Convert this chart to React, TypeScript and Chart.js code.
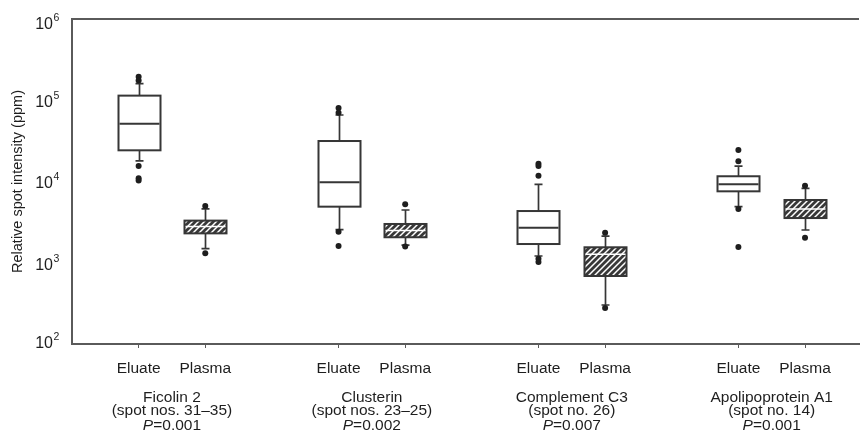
import React, { useEffect, useRef } from "react";
import { Chart, registerables } from "chart.js";

Chart.register(...registerables);

const groups = ["Ficolin 2", "Clusterin", "Complement C3", "Apolipoprotein A1"];
const spotLabels = ["(spot nos. 31–35)", "(spot nos. 23–25)", "(spot no. 26)", "(spot no. 14)"];
const pValues = ["0.001", "0.002", "0.007", "0.001"];
const sampleTypes = ["Eluate", "Plasma"];
const yTickValues = [1e2, 1e3, 1e4, 1e5, 1e6];

// Eluate box statistics (per protein)
const eluateLow = [17900, 2550, 1210, 4900];
const eluateQ1 = [24200, 4900, 1700, 7570];
const eluateMedian = [51500, 9770, 2700, 9230];
const eluateQ3 = [114000, 31500, 4330, 11600];
const eluateHigh = [160000, 65800, 9230, 15500];
const eluateOutliers = [
  [195000, 175000, 15500, 11000, 10300],
  [80000, 70000, 2400, 1610],
  [16500, 15500, 11800, 1120, 1020],
  [24400, 17700, 4600, 1560],
];

// Plasma box statistics (per protein)
const plasmaLow = [1490, 1650, 302, 2530];
const plasmaQ1 = [2300, 2060, 687, 3550];
const plasmaMedian = [2800, 2500, 1270, 4580];
const plasmaQ3 = [3300, 3000, 1550, 5920];
const plasmaHigh = [4600, 4460, 2130, 8250];
const plasmaOutliers = [
  [5000, 1310],
  [5240, 1580],
  [2340, 277],
  [8870, 2030],
];

const FONT = "'Liberation Sans', Arial, Helvetica, sans-serif";
const TEXT = "#1e1e1e";
const FRAME = "#5a5a5a";
const BOX_LINE = "#363636";

const stats = [
  { low: eluateLow, q1: eluateQ1, med: eluateMedian, q3: eluateQ3, high: eluateHigh, out: eluateOutliers },
  { low: plasmaLow, q1: plasmaQ1, med: plasmaMedian, q3: plasmaQ3, high: plasmaHigh, out: plasmaOutliers },
];

const posOf = (g: number, t: number) => g * 3 + t;

export default function App() {
  const ref = useRef<HTMLCanvasElement | null>(null);

  useEffect(() => {
    const canvas = ref.current;
    if (!canvas) return;

    // hatch pattern
    const pc = document.createElement("canvas");
    pc.width = 6;
    pc.height = 6;
    const pctx = pc.getContext("2d")!;
    pctx.fillStyle = "#383838";
    pctx.fillRect(0, 0, 6, 6);
    pctx.strokeStyle = "#ffffff";
    pctx.lineWidth = 1.5;
    pctx.beginPath();
    pctx.moveTo(-3, 3); pctx.lineTo(3, -3);
    pctx.moveTo(0, 6); pctx.lineTo(6, 0);
    pctx.moveTo(3, 9); pctx.lineTo(9, 3);
    pctx.stroke();
    const ctx0 = canvas.getContext("2d")!;
    const hatch = ctx0.createPattern(pc, "repeat");

    const tickPositions: number[] = [];
    const tickLabels: Record<number, string> = {};
    groups.forEach((_, g) => {
      sampleTypes.forEach((s, t) => {
        tickPositions.push(posOf(g, t));
        tickLabels[posOf(g, t)] = s;
      });
    });

    const outlierData: { x: number; y: number }[] = [];
    groups.forEach((_, g) => {
      stats.forEach((st, t) => {
        st.out[g].forEach((v) => outlierData.push({ x: posOf(g, t), y: v }));
      });
    });

    const boxPlugin = {
      id: "boxes",
      beforeDatasetsDraw(chart: any) {
        const { ctx, scales } = chart;
        const xs = scales.x;
        const ys = scales.y;
        const half = 21;
        const cap = 4;
        ctx.save();
        groups.forEach((_, g) => {
          stats.forEach((st, t) => {
            const px = Math.round(xs.getPixelForValue(posOf(g, t))) + 0.5;
            const yLow = ys.getPixelForValue(st.low[g]);
            const yQ1 = ys.getPixelForValue(st.q1[g]);
            const yMed = ys.getPixelForValue(st.med[g]);
            const yQ3 = ys.getPixelForValue(st.q3[g]);
            const yHigh = ys.getPixelForValue(st.high[g]);
            ctx.strokeStyle = BOX_LINE;
            ctx.lineWidth = 1.7;
            ctx.beginPath();
            ctx.moveTo(px, yHigh); ctx.lineTo(px, yQ3);
            ctx.moveTo(px, yQ1); ctx.lineTo(px, yLow);
            ctx.moveTo(px - cap, yHigh); ctx.lineTo(px + cap, yHigh);
            ctx.moveTo(px - cap, yLow); ctx.lineTo(px + cap, yLow);
            ctx.stroke();
            ctx.fillStyle = t === 0 ? "#ffffff" : (hatch as any);
            ctx.fillRect(px - half, yQ3, half * 2, yQ1 - yQ3);
            ctx.lineWidth = 2;
            ctx.strokeRect(px - half, yQ3, half * 2, yQ1 - yQ3);
            ctx.beginPath();
            ctx.strokeStyle = t === 0 ? BOX_LINE : "#ffffff";
            ctx.lineWidth = t === 0 ? 2 : 1.5;
            ctx.moveTo(px - half + 1, yMed); ctx.lineTo(px + half - 1, yMed);
            ctx.stroke();
          });
        });
        ctx.restore();
      },
      afterDraw(chart: any) {
        const { ctx, chartArea, scales } = chart;
        const xs = scales.x;
        const ys = scales.y;
        ctx.save();
        // top frame line
        ctx.strokeStyle = FRAME;
        ctx.lineWidth = 2;
        ctx.beginPath();
        ctx.moveTo(chartArea.left - 1, chartArea.top);
        ctx.lineTo(chartArea.right, chartArea.top);
        ctx.stroke();

        // y tick labels 10^n
        ctx.fillStyle = TEXT;
        yTickValues.forEach((v) => {
          const ty = ys.getPixelForValue(v);
          const cy = Math.min(Math.max(ty + 1, 23), 342);
          const base = cy + 5.8;
          const exp = String(Math.round(Math.log10(v)));
          ctx.font = `16px ${FONT}`;
          ctx.textAlign = "right";
          ctx.textBaseline = "alphabetic";
          ctx.fillText("10", 53, base);
          ctx.font = `10.5px ${FONT}`;
          ctx.textAlign = "left";
          ctx.fillText(exp, 53.5, base - 8);
        });

        // y title
        ctx.save();
        ctx.translate(18, (chartArea.top + chartArea.bottom) / 2);
        ctx.rotate(-Math.PI / 2);
        ctx.font = `14.5px ${FONT}`;
        ctx.textAlign = "center";
        ctx.textBaseline = "middle";
        ctx.fillText("Relative spot intensity (ppm)", 0, 0);
        ctx.restore();

        // group labels
        groups.forEach((name, g) => {
          const cx = xs.getPixelForValue(posOf(g, 0.5));
          ctx.textBaseline = "alphabetic";
          ctx.textAlign = "center";
          ctx.font = `15.5px ${FONT}`;
          ctx.fillText(name, cx, 401.5);
          ctx.fillText(spotLabels[g], cx, 415);
          const rest = "=" + pValues[g];
          ctx.font = `italic 15.5px ${FONT}`;
          const wP = ctx.measureText("P").width;
          ctx.font = `15.5px ${FONT}`;
          const wR = ctx.measureText(rest).width;
          const start = cx - (wP + wR) / 2;
          ctx.textAlign = "left";
          ctx.font = `italic 15.5px ${FONT}`;
          ctx.fillText("P", start, 429.5);
          ctx.font = `15.5px ${FONT}`;
          ctx.fillText(rest, start + wP, 429.5);
        });
        ctx.restore();
      },
    };

    const chart = new Chart(canvas, {
      type: "scatter",
      data: {
        datasets: [
          {
            label: "Outliers",
            data: outlierData,
            pointRadius: 3,
            pointHoverRadius: 3,
            pointBackgroundColor: "#1e1e1e",
            pointBorderWidth: 0,
          },
        ],
      },
      options: {
        animation: false,
        responsive: false,
        events: [],
        layout: { padding: { top: 19, left: 0, right: 0, bottom: 0 } },
        plugins: { legend: { display: false }, tooltip: { enabled: false }, title: { display: false } },
        scales: {
          x: {
            type: "linear",
            min: -1,
            max: 10.81,
            afterFit: (s: any) => { s.height = 96; },
            afterBuildTicks: (s: any) => { s.ticks = tickPositions.map((v) => ({ value: v })); },
            ticks: {
              callback: (v: any) => tickLabels[v as number] ?? "",
              font: { family: FONT, size: 15.5 },
              color: TEXT,
              padding: 11,
              maxRotation: 0,
              autoSkip: false,
            },
            grid: { display: true, drawOnChartArea: false, drawTicks: true, tickLength: 4, color: FRAME, lineWidth: 1 },
            border: { display: true, color: FRAME, width: 2 },
          },
          y: {
            type: "logarithmic",
            min: 100,
            max: 1e6,
            afterFit: (s: any) => { s.width = 72; },
            afterBuildTicks: (s: any) => { s.ticks = yTickValues.map((v) => ({ value: v })); },
            ticks: { display: false },
            grid: { display: false },
            border: { display: true, color: FRAME, width: 2 },
          },
        },
      },
      plugins: [boxPlugin],
    } as any);

    return () => chart.destroy();
  }, []);

  return (
    <div style={{ position: "fixed", left: 0, top: 0, width: 862, height: 440, background: "#fff" }}>
      <canvas ref={ref} width={862} height={440} style={{ display: "block", width: 862, height: 440 }} />
    </div>
  );
}
